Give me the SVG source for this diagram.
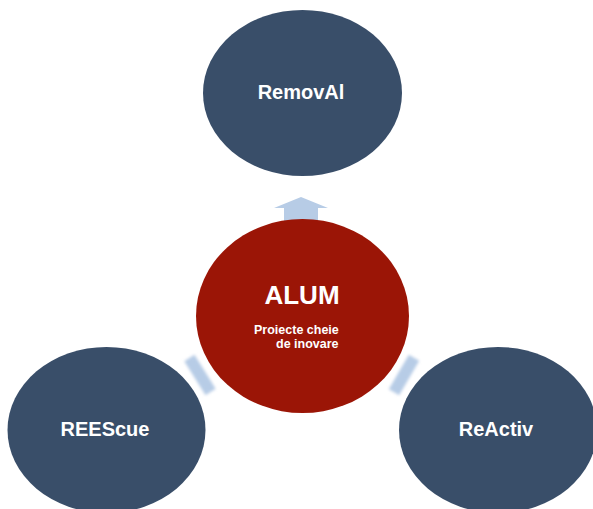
<svg xmlns="http://www.w3.org/2000/svg" width="593" height="509" viewBox="0 0 593 509">
<defs>
<style>
.blue{fill:#394E69}
.red{fill:#9B1506}
.t{fill:#fff;font-family:"Liberation Sans",Arial,sans-serif;font-weight:bold}
.arr{fill:#B7CCE6}
</style>
<filter id="blur" x="-50%" y="-50%" width="200%" height="200%"><feGaussianBlur stdDeviation="1.6"/></filter>
<clipPath id="topclip"><rect x="0" y="10" width="593" height="499"/></clipPath>
</defs>
<rect width="593" height="509" fill="#fff"/>
<g id="connectors">
<path class="arr" d="M301,197 L328,208 L318,208 L318,222 L284,222 L284,208 L274,208 Z"/>
<g filter="url(#blur)"><rect class="arr" x="-6" y="-20" width="12" height="40" transform="translate(200,375) rotate(-32)"/></g>
<g filter="url(#blur)"><rect class="arr" x="-6" y="-20" width="12" height="40" transform="translate(404,375) rotate(30)"/></g>
</g>
<g id="removal">
<ellipse class="blue" cx="302.5" cy="93" rx="99.5" ry="83" clip-path="url(#topclip)"/>
<text class="t" x="301" y="99" font-size="20" text-anchor="middle">RemovAl</text>
</g>
<g id="alum">
<ellipse class="red" cx="302.5" cy="316" rx="106.5" ry="97"/>
<text class="t" x="302" y="304" font-size="26" text-anchor="middle">ALUM</text>
<text class="t" x="254" y="334" font-size="12.5">Proiecte cheie</text>
<text class="t" x="276" y="348" font-size="12.5">de inovare</text>
</g>
<g id="reescue">
<ellipse class="blue" cx="106.5" cy="430" rx="99" ry="83"/>
<text class="t" x="105" y="436" font-size="20" text-anchor="middle">REEScue</text>
</g>
<g id="reactiv">
<ellipse class="blue" cx="498" cy="430" rx="99" ry="83"/>
<text class="t" x="496" y="436" font-size="20" text-anchor="middle">ReActiv</text>
</g>
</svg>
